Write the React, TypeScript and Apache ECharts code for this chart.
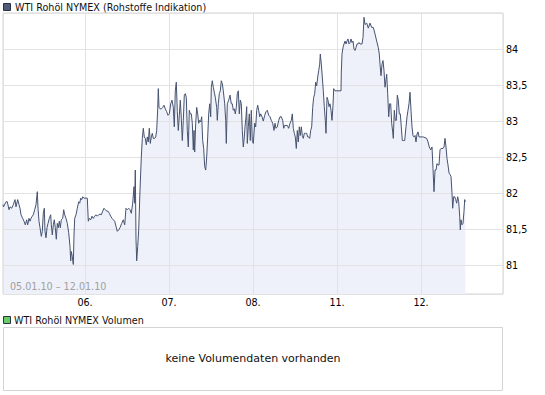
import React, { useEffect, useRef } from 'react';
import * as echarts from 'echarts';

// x unit: 1/84 of a trading day (slot); day boundaries every 84 slots
const dayTicks = [84, 168, 252, 336, 420];
const dayLabels = ['06.', '07.', '08.', '11.', '12.'];

const seg05: [number, number][] = [[2,81.84],[2.5,81.81],[5,81.88],[6.3,81.88],[8,81.77],[9,81.81],[10.7,81.79],[12.3,81.84],[14,81.91],[15,81.81],[16.7,81.91],[18,81.84],[19,81.79],[20,81.70],[21.7,81.65],[23,81.61],[24.3,81.56],[25.7,81.63],[26.7,81.56],[28,81.65],[29,81.61],[30,81.65],[31.3,81.68],[32.3,81.70],[33.7,81.77],[35,81.84],[36.3,82.02],[37,81.79],[38,81.61],[39,81.52],[40.3,81.40],[41.3,81.47],[42.3,81.72],[43.3,81.79],[44,81.47],[45,81.38],[46,81.52],[47,81.58],[48.3,81.65],[49.7,81.70],[50.3,81.56],[51.3,81.42],[52.3,81.56],[53.3,81.63],[54.3,81.52],[55.3,81.36],[56.3,81.58],[57.3,81.52],[58.3,81.61],[59.3,81.52],[60.3,81.63],[61.7,81.65],[62.7,81.77],[63.7,81.70],[65,81.65],[66.3,81.58],[67.7,81.45],[69,81.26],[69.7,81.06],[70.3,81.19],[71.3,81.12],[72.3,81.01],[73,81.42],[73.7,81.65],[75,81.70],[76.3,81.79],[77.7,81.88],[78.7,81.86],[79.7,81.93],[80.7,81.91],[81.7,81.95],[83,81.93]];

const seg06: [number, number][] = [[85,81.93],[86.3,81.93],[87.3,81.61],[88.3,81.65],[89.7,81.63],[91,81.68],[92.3,81.65],[93.7,81.68],[95,81.70],[96.3,81.68],[97.7,81.70],[99,81.71],[100.3,81.70],[101.7,81.75],[103,81.79],[104.3,81.77],[105.7,81.75],[107,81.75],[108.3,81.72],[109.7,81.68],[111,81.65],[112.3,81.63],[113.7,81.61],[115,81.54],[116.3,81.47],[117.7,81.49],[119,81.52],[120.7,81.58],[122.3,81.63],[123.7,81.56],[125,81.79],[126.3,81.77],[127.7,81.79],[129,81.77],[130.3,81.72],[131.7,81.86],[133,82.09],[133.7,81.86],[134.3,82.32],[135,81.36],[135.7,81.06],[136.7,81.26],[137.7,81.49],[139,82.04],[140.3,82.50],[141.3,82.76],[142.3,82.90],[143.3,82.78],[144.3,82.76],[145.3,82.67],[146.3,82.78],[147.3,82.71],[148.3,82.90],[149.3,82.69],[150.3,82.78],[151.3,82.83],[152.3,82.76],[153.7,82.76],[154.7,82.78],[155.7,82.87],[156.7,83.17],[157.3,83.45],[158,83.19],[159,83.17],[160.3,83.17],[161.7,83.19],[163,83.22],[164.3,83.17],[165.7,83.13],[167,83.08]];

const seg07: [number, number][] = [[168.3,83.10],[169.7,83.24],[171,83.29],[172.3,83.19],[173.3,82.92],[174.3,83.42],[175.3,83.54],[176.3,83.13],[177.3,82.87],[178.3,83.08],[179.3,83.29],[180.3,83.04],[181.3,82.73],[182.3,83.01],[183.3,83.36],[184.3,83.38],[185.3,83.33],[186.3,82.87],[187.3,82.64],[188.3,83.15],[189.3,83.10],[190.3,83.10],[191.3,82.97],[192.3,82.60],[193,82.87],[193.7,82.57],[194.7,82.97],[195.7,83.19],[196.7,83.10],[197.7,82.97],[198.7,83.01],[199.7,82.99],[200.7,83.06],[201.7,82.73],[202.7,82.62],[203.7,82.37],[204.7,82.32],[205.7,82.50],[206.7,82.78],[207.7,83.10],[208.7,83.24],[209.7,83.06],[210.3,83.47],[211.3,83.56],[212.3,83.47],[213.3,83.40],[214.3,83.33],[215.7,83.19],[216.3,83.01],[217.3,83.24],[218.3,83.38],[219.3,83.42],[220.3,83.56],[221.3,83.52],[222.3,83.42],[223.7,83.24],[224.7,83.01],[225.3,82.69],[226.3,83.24],[227.7,83.29],[229,83.36],[230.3,83.24],[231.3,83.24],[232.3,83.15],[233.3,83.17],[234.3,83.10],[235.3,83.19],[236.3,83.38],[237.3,83.42],[238.3,83.10],[239.3,83.29],[240.3,83.24],[241.3,82.87],[242.3,82.64],[243.3,82.78],[244,82.92],[245,83.06],[245.7,83.20],[246.3,82.69],[247.3,82.92],[248.3,83.10],[249.3,82.73],[250.3,83.15],[251.3,82.73]];

const seg08: [number, number][] = [[252.3,82.69],[253.7,82.97],[254.7,82.92],[255.7,83.15],[256.7,83.22],[257.7,83.15],[258.7,83.06],[259.7,83.10],[261,83.06],[262.3,83.00],[263.7,83.08],[265,83.13],[266.3,83.15],[267.7,83.08],[269,83.06],[270.3,83.01],[271.7,82.97],[273,82.87],[274,82.97],[275,82.90],[276.3,82.92],[277.7,83.01],[279,83.06],[280.3,83.06],[281.7,83.01],[282.7,82.90],[283.7,82.94],[285,82.94],[286.3,82.94],[287.7,82.90],[289,82.97],[290.3,83.01],[291.3,83.10],[292.3,82.90],[293.3,82.83],[294.3,82.78],[295.3,82.62],[296.3,82.87],[297.3,82.71],[298.3,82.92],[299.3,82.80],[300.3,82.92],[301.3,82.80],[302.3,82.76],[303.3,82.83],[304.3,82.83],[305.7,82.83],[306.7,82.78],[307.7,82.78],[308.7,82.76],[309.7,82.87],[310.7,82.92],[311.7,83.19],[312.7,83.33],[313.7,83.38],[314.7,83.54],[315.7,83.49],[316.7,83.61],[317.7,83.70],[318.7,83.79],[319.3,83.93],[320.3,83.79],[321.3,83.61],[322.3,83.42],[323.3,83.20],[324.3,83.01],[325,82.83],[326,83.33],[327,83.29],[328,83.20],[329,83.24],[330,83.15],[331,83.01],[332,83.22],[332.7,83.45],[334,83.42]];

const seg11: [number, number][] = [[336,83.42],[338,83.42],[340,83.42],[340.3,83.68],[341,83.93],[342,84.02],[343,84.07],[344,84.11],[345,84.07],[346,84.11],[347,84.14],[348,84.07],[349,84.09],[350,84.14],[351,84.09],[352,84.11],[353,84.00],[354,83.98],[355,84.02],[356,84.07],[357,84.07],[358,84.09],[359,84.07],[360,84.07],[361,84.07],[362,84.16],[363,84.44],[364,84.34],[365.7,84.36],[367.3,84.29],[369,84.36],[370.7,84.30],[372.3,84.30],[374,84.21],[375.7,84.11],[377.3,84.02],[378.3,83.93],[379,83.79],[380,83.63],[381,83.79],[382,83.84],[383,83.70],[384,83.47],[385.7,83.65],[386.7,83.38],[387.7,83.06],[388.7,83.24],[389.7,83.24],[390.7,82.97],[391.7,82.85],[392.3,82.76],[393.3,83.15],[394.3,83.01],[395.3,83.01],[396.3,83.36],[397.3,83.29],[398.3,83.10],[399.3,83.10],[400.3,82.92],[401.3,82.73],[402.3,82.73],[403.7,82.73],[405,82.92],[406,83.06],[407,83.15],[408,83.24],[409,83.40],[410,83.15],[411,82.92],[412,82.80],[413,82.78],[414,82.80],[415,82.71],[416,82.82],[417,82.85],[418,82.78],[419,82.78]];

const seg12: [number, number][] = [[420.7,82.78],[422.3,82.78],[424,82.77],[425.7,82.76],[427,82.71],[428.3,82.64],[429.7,82.60],[431,82.64],[432,82.34],[433,82.02],[434,82.32],[435,82.32],[436,82.41],[437,82.39],[438,82.39],[439,82.60],[440,82.62],[441,82.62],[442,82.62],[443,82.64],[444,82.76],[445,82.64],[446,82.48],[447,82.39],[448,82.28],[449,82.26],[450,82.23],[451,82.00],[451.7,81.79],[452.7,81.95],[453.7,81.95],[454.7,81.91],[455.7,81.86],[456.7,81.95],[457.7,81.88],[458.7,81.68],[459.3,81.49],[460,81.63],[461,81.56],[462,81.58],[463,81.75],[463.7,81.91],[464.3,81.88]];

const FONT = 'DejaVu Sans';

export default function App() {
  const ref = useRef<HTMLDivElement>(null);
  useEffect(() => {
    const chart = echarts.init(ref.current!, null, { renderer: 'svg' });
    const data = [...seg05, ...seg06, ...seg07, ...seg08, ...seg11, ...seg12];
    chart.setOption({
      animation: false,
      backgroundColor: '#ffffff',
      grid: { left: 3, top: 13, width: 500, height: 281, show: true, borderColor: '#d4d4d4', borderWidth: 1, backgroundColor: 'transparent', containLabel: false },
      xAxis: {
        type: 'value', min: 2, max: 502, minInterval: 84, maxInterval: 84, z: 3,
        axisLine: { show: false }, axisTick: { show: false },
        splitLine: { show: true, lineStyle: { color: '#e2e2e2', width: 1 } },
        axisLabel: {
          formatter: (v: number) => { const i = dayTicks.indexOf(Math.round(v)); return i >= 0 ? dayLabels[i] : ''; },
          showMinLabel: false, showMaxLabel: false, color: '#000', fontFamily: FONT, fontSize: 9.6, margin: 3,
        },
      },
      yAxis: {
        type: 'value', position: 'right', min: 80.6, max: 84.5, minInterval: 0.5, maxInterval: 0.5, z: 3,
        axisLine: { show: false }, axisTick: { show: false },
        splitLine: { show: true, lineStyle: { color: '#e2e2e2', width: 1 } },
        axisLabel: {
          formatter: (v: number) => String(v).replace('.', ','),
          showMinLabel: false, showMaxLabel: false, color: '#000', fontFamily: FONT, fontSize: 9.6, margin: 3,
        },
      },
      series: [
        { type: 'line', data, showSymbol: false, silent: true, z: 1, lineStyle: { width: 0, opacity: 0 }, areaStyle: { color: '#eef1fa', opacity: 1, origin: 'start' } },
        { type: 'line', data, showSymbol: false, silent: true, z: 5, lineStyle: { color: '#46526f', width: 1 } },
      ],
      graphic: [
        { type: 'rect', shape: { x: 3.5, y: 3.5, width: 7, height: 7 }, style: { fill: '#4f5b78', stroke: '#2a3144', lineWidth: 1 } },
        { type: 'text', x: 15, y: 7.5, style: { text: 'WTI Rohöl NYMEX (Rohstoffe Indikation)', fontFamily: FONT, fontSize: 9.6, fill: '#111', verticalAlign: 'middle' } },
        { type: 'text', x: 10, y: 286, z: 10, style: { text: '05.01.10 – 12.01.10', fontFamily: FONT, fontSize: 9.6, fill: '#a0a0a0', verticalAlign: 'middle' } },
        { type: 'rect', shape: { x: 3.5, y: 316.5, width: 7, height: 7 }, style: { fill: '#66cc66', stroke: '#2a3144', lineWidth: 1 } },
        { type: 'text', x: 14, y: 320.5, style: { text: 'WTI Rohöl NYMEX Volumen', fontFamily: FONT, fontSize: 9.6, fill: '#111', verticalAlign: 'middle' } },
        { type: 'rect', shape: { x: 3.5, y: 327.5, width: 499, height: 63 }, style: { fill: 'none', stroke: '#d4d4d4', lineWidth: 1 } },
        { type: 'text', x: 253, y: 358, style: { text: 'keine Volumendaten vorhanden', fontFamily: FONT, fontSize: 11, fill: '#111', align: 'center', verticalAlign: 'middle' } },
      ],
    });
    return () => chart.dispose();
  }, []);
  return <div ref={ref} style={{ position: 'fixed', left: 0, top: 0, width: 545, height: 395, background: '#fff' }} />;
}
